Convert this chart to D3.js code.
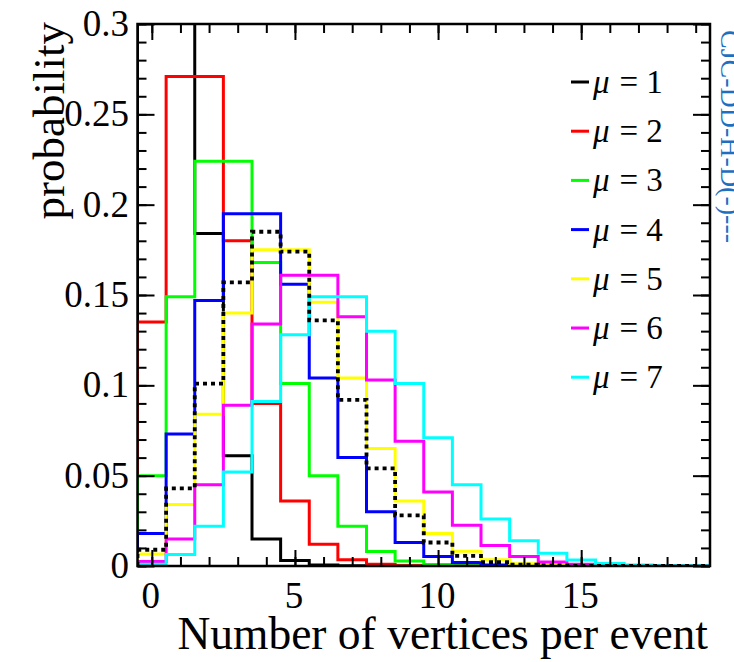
<!DOCTYPE html>
<html>
<head>
<meta charset="utf-8">
<script src="https://cdn.jsdelivr.net/npm/d3@7"></script>
<style>
	body { margin: 0; background: #fff; }
	svg text { font-family: "Liberation Serif", "Times New Roman", serif; }
</style>
</head>
<body>
<div id="chart"></div>
<script>
// bin contents, bins 0..19 (probability per number of vertices)
const bins = d3.range(0, 20);
const mu1 = [0.368, 0.368, 0.184, 0.061, 0.015, 0.003, 0.0005, 0.0001, 0, 0, 0, 0, 0, 0, 0, 0, 0, 0, 0, 0];
const mu2 = [0.135, 0.271, 0.271, 0.180, 0.090, 0.036, 0.012, 0.0034, 0.0009, 0.0002, 0, 0, 0, 0, 0, 0, 0, 0, 0, 0];
const mu3 = [0.050, 0.149, 0.224, 0.224, 0.168, 0.101, 0.050, 0.022, 0.008, 0.0027, 0.0008, 0.0002, 0, 0, 0, 0, 0, 0, 0, 0];
const mu4 = [0.018, 0.073, 0.147, 0.195, 0.195, 0.156, 0.104, 0.060, 0.030, 0.013, 0.0053, 0.0019, 0.0006, 0.0002, 0, 0, 0, 0, 0, 0];
const mu5 = [0.0067, 0.034, 0.084, 0.140, 0.175, 0.175, 0.146, 0.104, 0.065, 0.036, 0.018, 0.0082, 0.0034, 0.0013, 0.0005, 0.0002, 0, 0, 0, 0];
const mu6 = [0.0025, 0.015, 0.045, 0.089, 0.134, 0.161, 0.161, 0.138, 0.103, 0.069, 0.041, 0.0225, 0.0113, 0.0052, 0.0022, 0.0009, 0.0003, 0.0001, 0, 0];
const mu7 = [0.0009, 0.0064, 0.022, 0.052, 0.091, 0.128, 0.149, 0.149, 0.130, 0.101, 0.071, 0.045, 0.026, 0.014, 0.0071, 0.0033, 0.0014, 0.0006, 0.0002, 0.0001];
const mixed = [0.009, 0.043, 0.101, 0.157, 0.185, 0.174, 0.136, 0.092, 0.054, 0.028, 0.013, 0.0056, 0.0022, 0.0008, 0.0003, 0.0001, 0, 0, 0, 0];

const labels = ["1", "2", "3", "4", "5", "6", "7"];
const colors = ["#000000", "#ff0000", "#00ff00", "#0000ff", "#ffff00", "#ff00ff", "#00ffff"];
const xTicks = [0, 5, 10, 15];
const yTicks = [0, 0.05, 0.1, 0.15, 0.2, 0.25, 0.3];

const w = 734;
const h = 662;
const mLeft = 137.5, mRight = 710, mTop = 24, mBottom = 566;

const x = d3.scaleLinear().domain([-0.5, 19.5]).range([mLeft, mRight]);
const y = d3.scaleLinear().domain([0, 0.3]).range([mBottom, mTop]);

const svg = d3.select("#chart").append("svg").attr("width", w).attr("height", h);

svg.append("clipPath").attr("id", "frame")
	.append("rect")
	.attr("x", mLeft).attr("y", mTop)
	.attr("width", mRight - mLeft).attr("height", mBottom - mTop);

// step outline like a ROOT histogram
const step = d3.line()
	.x((d) => x(d[0]))
	.y((d) => y(d[1]))
	.curve(d3.curveStepAfter);

const toPoints = (vals) => {
	const pts = [[-0.5, 0]];
	bins.forEach((b, i) => pts.push([b - 0.5, vals[i]]));
	pts.push([19.5, vals[vals.length - 1]]);
	pts.push([19.5, 0]);
	return pts;
};

const plot = svg.append("g").attr("clip-path", "url(#frame)");
const series = [mu1, mu2, mu3, mu4, mu5, mu6, mu7];

series.forEach((s, i) => {
	plot.append("path")
		.attr("d", step(toPoints(s)))
		.attr("fill", "none")
		.attr("stroke", colors[i])
		.attr("stroke-width", 3);
});

plot.append("path")
	.attr("d", step(toPoints(mixed)))
	.attr("fill", "none")
	.attr("stroke", "#000")
	.attr("stroke-width", 3.8)
	.attr("stroke-dasharray", "4,4");

// axes, ticks pointing inward on all four sides
const minorX = d3.range(0, 20);
const minorY = d3.range(0, 31).map((d) => d / 100);

const axes = svg.append("g").attr("class", "axes");
axes.append("g").attr("transform", "translate(0," + mBottom + ")")
	.call(d3.axisTop(x).tickValues(minorX).tickSize(9).tickFormat(""));
axes.append("g").attr("transform", "translate(0," + mBottom + ")")
	.call(d3.axisTop(x).tickValues(xTicks).tickSize(16).tickFormat(""));
axes.append("g").attr("transform", "translate(0," + mTop + ")")
	.call(d3.axisBottom(x).tickValues(minorX).tickSize(9).tickFormat(""));
axes.append("g").attr("transform", "translate(0," + mTop + ")")
	.call(d3.axisBottom(x).tickValues(xTicks).tickSize(16).tickFormat(""));
axes.append("g").attr("transform", "translate(" + mLeft + ",0)")
	.call(d3.axisRight(y).tickValues(minorY).tickSize(9).tickFormat(""));
axes.append("g").attr("transform", "translate(" + mLeft + ",0)")
	.call(d3.axisRight(y).tickValues(yTicks).tickSize(17).tickFormat(""));
axes.append("g").attr("transform", "translate(" + mRight + ",0)")
	.call(d3.axisLeft(y).tickValues(minorY).tickSize(9).tickFormat(""));
axes.append("g").attr("transform", "translate(" + mRight + ",0)")
	.call(d3.axisLeft(y).tickValues(yTicks).tickSize(17).tickFormat(""));
axes.selectAll(".domain").remove();
axes.selectAll(".tick line").attr("stroke", "#000").attr("stroke-width", 2);

svg.append("rect")
	.attr("x", mLeft).attr("y", mTop)
	.attr("width", mRight - mLeft).attr("height", mBottom - mTop)
	.attr("fill", "none").attr("stroke", "#000").attr("stroke-width", 2.5);

// tick labels
svg.selectAll(".xlab").data(xTicks).enter().append("text")
	.attr("class", "xlab")
	.attr("x", (d) => x(d) - 1)
	.attr("y", 608)
	.attr("text-anchor", "middle")
	.attr("font-size", 37)
	.text((d) => d);

svg.selectAll(".ylab").data(yTicks).enter().append("text")
	.attr("class", "ylab")
	.attr("x", 129)
	.attr("y", (d) => y(d) + 12)
	.attr("text-anchor", "end")
	.attr("font-size", 37)
	.text((d) => d);

svg.append("text")
	.attr("x", 708).attr("y", 649)
	.attr("text-anchor", "end")
	.attr("font-size", 45.5)
	.text("Number of vertices per event");

svg.append("text")
	.attr("transform", "translate(64,22) rotate(-90)")
	.attr("text-anchor", "end")
	.attr("font-size", 45)
	.text("probability");

// legend
const legend = svg.append("g");
labels.forEach((l, i) => {
	const ly = 82 + i * 49.2;
	legend.append("line")
		.attr("x1", 571).attr("x2", 589)
		.attr("y1", ly).attr("y2", ly)
		.attr("stroke", colors[i]).attr("stroke-width", 3);
	const t = legend.append("text")
		.attr("x", 593).attr("y", ly + 11)
		.attr("font-size", 33);
	t.append("tspan").attr("font-style", "italic").text("μ");
	t.append("tspan").attr("dx", 10).text("=");
	t.append("tspan").attr("dx", 8).text(l);
});

// side stamp, mostly cut off at the page edge as in the source
svg.append("text")
	.attr("transform", "translate(721,30) rotate(90)")
	.attr("font-family", "DejaVu Sans, sans-serif")
	.attr("font-size", 28)
	.attr("fill", "#1f6fc0")
	.text("CJC-DD-H-D(-)---");
</script>
</body>
</html>
